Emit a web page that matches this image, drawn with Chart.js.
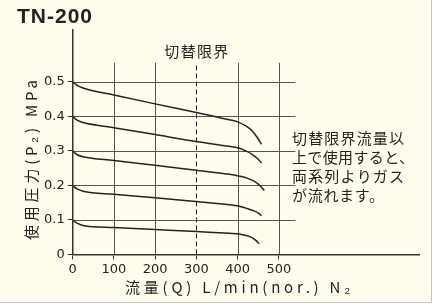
<!DOCTYPE html>
<html>
<head>
<meta charset="utf-8">
<style>
  body { margin: 0; background: #fff; }
  #wrap { width: 431px; height: 302px; background: #fffeee; border-right: 1px solid #c4c4c4; border-bottom: 1px solid #c4c4c4; }
</style>
</head>
<body>
<div id="wrap"><canvas id="myChart"></canvas></div>
<script src="https://cdn.jsdelivr.net/npm/chart.js@4"></script>
<script>
// flow (L/min) points for each curve, and pressure (MPa)
const flowA = [0, 5, 12, 25, 100, 200, 300, 380, 400, 420, 435, 448, 458]
const flowC = [0, 5, 12, 25, 100, 200, 300, 380, 400, 420, 440, 455, 465]
const flowD = [0, 5, 12, 25, 100, 200, 300, 380, 400, 420, 440, 450, 458]
const flowE = [0, 5, 12, 25, 100, 200, 300, 380, 400, 420, 436, 445, 452]
const p05 = [0.5, 0.495, 0.489, 0.482, 0.462, 0.436, 0.411, 0.39, 0.384, 0.372, 0.358, 0.338, 0.319]
const p04 = [0.4, 0.394, 0.388, 0.382, 0.367, 0.347, 0.327, 0.313, 0.309, 0.3, 0.29, 0.278, 0.265]
const p03 = [0.3, 0.294, 0.288, 0.283, 0.272, 0.258, 0.244, 0.232, 0.228, 0.222, 0.212, 0.198, 0.185]
const p02 = [0.2, 0.194, 0.189, 0.183, 0.174, 0.164, 0.153, 0.144, 0.141, 0.134, 0.126, 0.12, 0.112]
const p01 = [0.1, 0.095, 0.09, 0.084, 0.078, 0.072, 0.066, 0.061, 0.06, 0.055, 0.048, 0.04, 0.031]

const xTicks = [0, 100, 200, 300, 400, 500]
const yTicks = [0, 0.1, 0.2, 0.3, 0.4, 0.5]
const gridXEnd = 540    // horizontal grid lines stop here
const gridYEnd = 0.555  // vertical grid lines stop here
const limitFlow = 300   // 切替限界

const yTitle = '使用圧力(P₂) MPa'
const xTitle = '流量(Q) L/min(nor.) N₂'
const limitLabel = '切替限界'
const note = ['切替限界流量以', '上で使用すると、', '両系列よりガス', 'が流れます。']

const jp = '"Noto Sans CJK JP", sans-serif'

function pts(xs, ys) { return xs.map((q, i) => ({ x: q, y: ys[i] })) }

function spaced(ctx, text, x, y, width) {
  ctx.letterSpacing = '0px'
  const w = ctx.measureText(text).width
  const sp = (width - w) / Math.max(1, [...text].length - 1)
  ctx.letterSpacing = sp + 'px'
  ctx.fillText(text, x, y)
  ctx.letterSpacing = '0px'
}

const extras = {
  id: 'extras',
  beforeDatasetsDraw(chart) {
    const { ctx, scales: { x, y } } = chart
    ctx.save()
    ctx.strokeStyle = '#555'
    ctx.lineWidth = 1
    yTicks.slice(1).forEach((v) => {
      const py = Math.round(y.getPixelForValue(v)) + 0.5
      ctx.beginPath()
      ctx.moveTo(x.getPixelForValue(0), py)
      ctx.lineTo(x.getPixelForValue(gridXEnd), py)
      ctx.stroke()
    })
    xTicks.slice(1).forEach((v) => {
      if (v === limitFlow) return
      const px = Math.round(x.getPixelForValue(v)) + 0.5
      ctx.beginPath()
      ctx.moveTo(px, y.getPixelForValue(0))
      ctx.lineTo(px, y.getPixelForValue(gridYEnd))
      ctx.stroke()
    })
    const lx = Math.round(x.getPixelForValue(limitFlow)) + 0.5
    ctx.strokeStyle = '#222'
    ctx.setLineDash([5, 3])
    ctx.beginPath()
    ctx.moveTo(lx, y.getPixelForValue(0))
    ctx.lineTo(lx, y.getPixelForValue(gridYEnd))
    ctx.stroke()
    ctx.restore()
  },
  afterDraw(chart) {
    const { ctx, scales: { x, y } } = chart
    ctx.save()
    ctx.fillStyle = '#222'
    ctx.textBaseline = 'middle'
    // title
    ctx.font = 'bold 21px "Liberation Sans", Arial, sans-serif'
    ctx.textAlign = 'left'
    spaced(ctx, 'TN-200', 17, 17, 75)
    // limit label
    ctx.font = '15px ' + jp
    ctx.textAlign = 'left'
    spaced(ctx, limitLabel, x.getPixelForValue(limitFlow) - 32, 51, 64)
    // note
    ctx.font = '15px ' + jp
    const widths = [112, 122, 112, 92]
    note.forEach((t, i) => spaced(ctx, t, 292, 138 + i * 19, widths[i]))
    // x title
    ctx.font = '15px ' + jp
    spaced(ctx, xTitle, 125, 287, 225)
    // y title
    ctx.translate(31, 160)
    ctx.rotate(-Math.PI / 2)
    spaced(ctx, yTitle, -80, 0, 160)
    ctx.restore()
  }
}

const lineStyle = { borderColor: '#222', borderWidth: 1.5, pointRadius: 0, fill: false, cubicInterpolationMode: 'monotone' }

new Chart(document.getElementById('myChart'), {
  type: 'line',
  data: {
    datasets: [
      { ...lineStyle, data: pts(flowA, p05) },
      { ...lineStyle, data: pts(flowA, p04) },
      { ...lineStyle, data: pts(flowC, p03) },
      { ...lineStyle, data: pts(flowD, p02) },
      { ...lineStyle, data: pts(flowE, p01) },
    ],
  },
  options: {
    responsive: true,
    maintainAspectRatio: false,
    animation: false,
    layout: { padding: { left: 41, right: 12, top: 30, bottom: 23 } },
    plugins: { legend: { display: false }, tooltip: { enabled: false } },
    scales: {
      x: {
        type: 'linear', min: 0, max: 840,
        afterBuildTicks: (s) => { s.ticks = xTicks.map((v) => ({ value: v })) },
        grid: { drawOnChartArea: false, tickLength: 5, color: '#333', lineWidth: 1 },
        border: { display: true, color: '#333', width: 1.5 },
        ticks: { color: '#222', padding: 2, maxRotation: 0, font: { family: 'DejaVu Sans', size: 13 } },
      },
      y: {
        type: 'linear', min: 0, max: 0.65,
        afterBuildTicks: (s) => { s.ticks = yTicks.map((v) => ({ value: v })) },
        grid: { drawOnChartArea: false, tickLength: 5, color: '#333', lineWidth: 1 },
        border: { display: true, color: '#333', width: 1.5 },
        ticks: { color: '#222', padding: 3, font: { family: 'DejaVu Sans', size: 13 }, callback: (v) => String(v) },
      },
    },
  },
  plugins: [extras],
})
</script>
</body>
</html>
